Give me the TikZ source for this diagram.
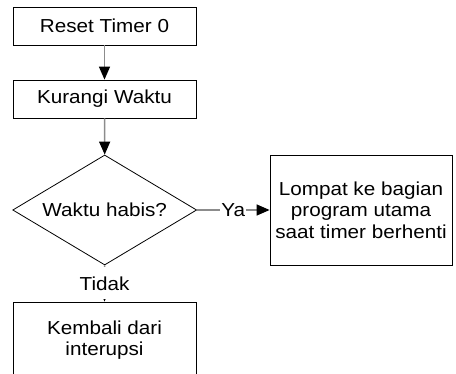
\documentclass[tikz,border=0pt]{standalone}
\usepackage{fontspec}
\setmainfont{Liberation Sans}[FakeStretch=1.1]
\usetikzlibrary{arrows.meta,shapes.geometric}
\begin{document}
\begin{tikzpicture}[x=1pt,y=-1pt,
  every node/.style={font=\fontsize{18.8pt}{21.7pt}\selectfont},
  box/.style={draw=black,line width=0.8pt,rectangle,align=center,inner sep=0pt},
  dec/.style={draw=black,line width=0.8pt,diamond,aspect=1.67,inner sep=0pt,minimum width=184pt,minimum height=110pt},
  conn/.style={draw=gray!90,line width=1.4pt,-{Triangle[length=13pt,width=11pt,black]}},
  lbl/.style={fill=white,inner xsep=1pt,inner ysep=0pt}]
\useasboundingbox (0,0) rectangle (456,374);
\clip (0,0) rectangle (456,374);
\node[box,minimum width=183pt,minimum height=38pt] (b1) at (104.5,26) {Reset Timer 0};
\node[box,minimum width=183pt,minimum height=38pt] (b2) at (104.5,99) {Kurangi Waktu};
\node[dec] (dia) at (104.7,210) {Waktu habis?};
\node[box,minimum width=182pt,minimum height=110pt] (rb) at (361,210) {Lompat ke bagian\\program utama\\saat timer berhenti};
\node[box,minimum width=183pt,minimum height=76pt] (bb) at (104.5,340) {Kembali dari\\interupsi};
\draw[conn] (b1) -- (b2);
\draw[conn] (b2) -- (dia.north);
\draw[conn] (dia.east) -- node[lbl]{Ya} (rb.west);
\draw[conn] (dia.south) -- node[lbl,minimum height=32pt]{Tidak} (bb.north);
\end{tikzpicture}
\end{document}
